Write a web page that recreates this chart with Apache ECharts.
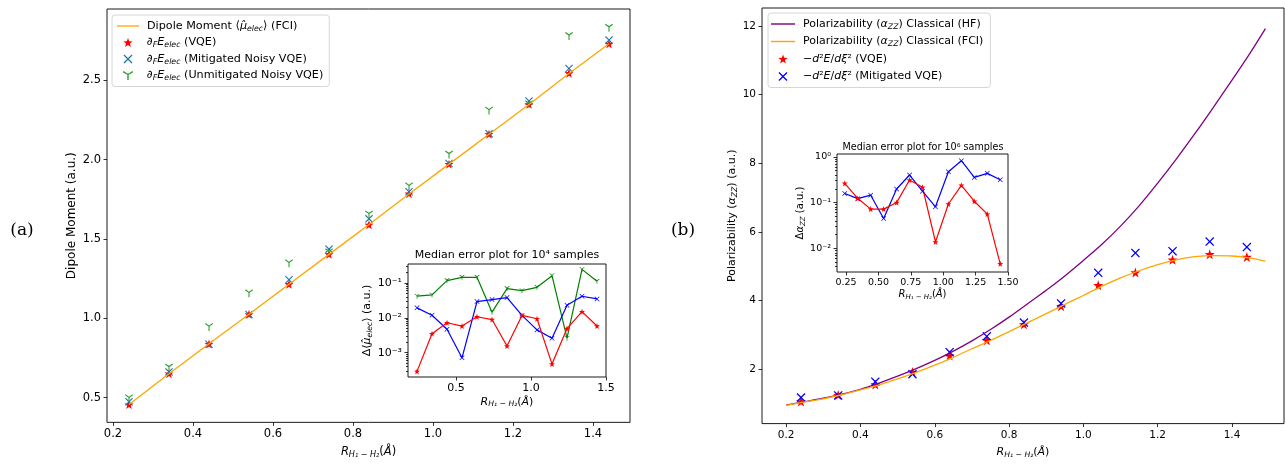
<!DOCTYPE html>
<html>
<head>
<meta charset="utf-8">
<script src="https://cdn.jsdelivr.net/npm/echarts@6/dist/echarts.min.js"></script>
<style>
html, body { margin: 0; padding: 0; background: #fff; }
#chart { width: 1286px; height: 464px; }
</style>
</head>
<body>
<div id="chart"></div>
<script>
// bond lengths used for every computed point
const rPoints = [0.24, 0.34, 0.44, 0.54, 0.64, 0.74, 0.84, 0.94, 1.04, 1.14, 1.24, 1.34, 1.44];

// (a) dipole moment
const dipoleFci = [0.456, 0.650, 0.840, 1.025, 1.215, 1.403, 1.591, 1.784, 1.972, 2.160, 2.348, 2.543, 2.731];
const dipoleVqe = [0.456, 0.651, 0.838, 1.025, 1.215, 1.404, 1.590, 1.786, 1.972, 2.161, 2.349, 2.545, 2.730];
const dipoleMitigated = [0.474, 0.662, 0.836, 1.024, 1.243, 1.436, 1.627, 1.798, 1.976, 2.164, 2.370, 2.575, 2.754];
const dipoleUnmitigated = [0.496, 0.690, 0.945, 1.158, 1.347, 1.417, 1.655, 1.832, 2.033, 2.310, 2.350, 2.780, 2.832];

// (a) inset: median errors, 10^4 samples
const errDipoleVqe = [0.00029, 0.0035, 0.0072, 0.0058, 0.0107, 0.0089, 0.00155, 0.0117, 0.0094, 0.00047, 0.0049, 0.015, 0.0058];
const errDipoleMitigated = [0.0193, 0.0118, 0.0047, 0.00071, 0.0293, 0.0334, 0.038, 0.0117, 0.0045, 0.0026, 0.0229, 0.0415, 0.0348];
const errDipoleUnmitigated = [0.0417, 0.0454, 0.117, 0.145, 0.145, 0.0145, 0.069, 0.060, 0.075, 0.162, 0.0026, 0.245, 0.112];

// (b) polarizability curves
const curveR = [0.20, 0.25, 0.30, 0.35, 0.40, 0.45, 0.50, 0.55, 0.60, 0.65, 0.70, 0.75, 0.80, 0.85, 0.90, 0.95, 1.00, 1.05, 1.10, 1.15, 1.20, 1.25, 1.30, 1.35, 1.40, 1.45, 1.49];
const polarHf = [0.96, 1.06, 1.16, 1.28, 1.42, 1.60, 1.80, 2.02, 2.26, 2.53, 2.83, 3.16, 3.52, 3.91, 4.30, 4.72, 5.17, 5.64, 6.17, 6.76, 7.42, 8.12, 8.86, 9.63, 10.42, 11.23, 11.92];
const polarFci = [0.95, 1.05, 1.14, 1.26, 1.40, 1.55, 1.72, 1.91, 2.12, 2.35, 2.60, 2.84, 3.10, 3.36, 3.62, 3.89, 4.15, 4.42, 4.66, 4.87, 5.05, 5.19, 5.28, 5.31, 5.30, 5.24, 5.15];
const polarVqe = [1.06, 1.25, 1.56, 1.92, 2.40, 2.85, 3.31, 3.84, 4.45, 4.82, 5.19, 5.35, 5.27];
const polarMitigated = [1.18, 1.24, 1.64, 1.86, 2.50, 2.96, 3.36, 3.92, 4.81, 5.39, 5.44, 5.72, 5.56];

// (b) inset: median errors, 10^6 samples
const errPolarVqe = [0.264, 0.124, 0.072, 0.072, 0.100, 0.311, 0.216, 0.0138, 0.093, 0.238, 0.107, 0.056, 0.0046];
const errPolarMitigated = [0.158, 0.122, 0.145, 0.045, 0.198, 0.40, 0.177, 0.081, 0.472, 0.82, 0.355, 0.435, 0.316];

// tick labels
const ticksDipoleX = [0.2, 0.4, 0.6, 0.8, 1.0, 1.2, 1.4];
const ticksDipoleY = [0.5, 1.0, 1.5, 2.0, 2.5];
const ticksPolarX = [0.2, 0.4, 0.6, 0.8, 1.0, 1.2, 1.4];
const ticksPolarY = [2, 4, 6, 8, 10, 12];
const ticksInsetAX = [0.5, 1.0, 1.5];
const ticksInsetAY = [0.001, 0.01, 0.1];
const minorInsetAY = [0.0003, 0.0004, 0.0005, 0.0006, 0.0007, 0.0008, 0.0009,
    0.002, 0.003, 0.004, 0.005, 0.006, 0.007, 0.008, 0.009,
    0.02, 0.03, 0.04, 0.05, 0.06, 0.07, 0.08, 0.09, 0.2, 0.3];
const ticksInsetBX = [0.25, 0.50, 0.75, 1.00, 1.25, 1.50];
const ticksInsetBY = [0.01, 0.1, 1];
const minorInsetBY = [0.004, 0.005, 0.006, 0.007, 0.008, 0.009,
    0.02, 0.03, 0.04, 0.05, 0.06, 0.07, 0.08, 0.09,
    0.2, 0.3, 0.4, 0.5, 0.6, 0.7, 0.8, 0.9];

const FONT = 'DejaVu Sans';
const STAR = 'path://M10,0 L12.35,6.76 L19.51,6.91 L13.8,11.24 L15.88,18.09 L10,14 L4.12,18.09 L6.2,11.24 L0.49,6.91 L7.65,6.76 Z';
const CROSS = 'path://M0,1 L1,0 L5,4 L9,0 L10,1 L6,5 L10,9 L9,10 L5,6 L1,10 L0,9 L4,5 Z';
const TRI = 'path://M4.4,10 L5.6,10 L5.6,5.6 L9.5,3.3 L8.9,2.3 L5,4.6 L1.1,2.3 L0.5,3.3 L4.4,5.6 Z';
const LINE_ICON = 'path://M0,0 L22,0 L22,1.3 L0,1.3 Z';

function pairs(xs, ys) {
    return xs.map(function (x, i) { return [x, ys[i]]; });
}

function mathRich(fs) {
    return {
        n: { fontSize: fs, fontFamily: FONT, color: '#000' },
        i: { fontSize: fs, fontFamily: FONT, fontStyle: 'italic', color: '#000' },
        sub: { fontSize: fs * 0.7, fontFamily: FONT, fontStyle: 'italic', color: '#000', lineHeight: fs * 0.7, padding: [fs * 0.5, 0, 0, 0] }
    };
}

const SUP = { '-': '⁻', '0': '⁰', '1': '¹', '2': '²', '3': '³', '4': '⁴' };
function powLabel(v) {
    let e = String(Math.round(Math.log10(v)));
    return '10' + e.split('').map(function (c) { return SUP[c]; }).join('');
}

const legendText = {
    'Dipole Moment (FCI)': '{n|Dipole Moment ⟨}{i|μ̂}{sub|elec}{n|⟩ (FCI)}',
    'dF VQE': '{i|∂}{sub|F}{i|E}{sub|elec}{n| (VQE)}',
    'dF Mitigated': '{i|∂}{sub|F}{i|E}{sub|elec}{n| (Mitigated Noisy VQE)}',
    'dF Unmitigated': '{i|∂}{sub|F}{i|E}{sub|elec}{n| (Unmitigated Noisy VQE)}',
    'Polar HF': '{n|Polarizability (}{i|α}{sub|ZZ}{n|) Classical (HF)}',
    'Polar FCI': '{n|Polarizability (}{i|α}{sub|ZZ}{n|) Classical (FCI)}',
    'd2E VQE': '{n|−}{i|d}{n|²}{i|E}{n|/}{i|dξ}{n|² (VQE)}',
    'd2E Mitigated': '{n|−}{i|d}{n|²}{i|E}{n|/}{i|dξ}{n|² (Mitigated VQE)}'
};

const R_LABEL = '{i|R}{sub|H₁ − H₂}{n|(}{i|Å}{n|)}';

function valueAxis(opt) {
    return Object.assign({
        type: 'value',
        axisLine: { show: false },
        splitLine: { show: false },
        nameLocation: 'middle'
    }, opt);
}

function labelCfg(fs, vals, fmt) {
    return {
        show: true, color: '#000', fontFamily: FONT, fontSize: fs, margin: 6,
        customValues: vals, showMinLabel: true, showMaxLabel: true,
        formatter: fmt
    };
}

function tickCfg(vals, len) {
    return { show: true, inside: false, length: len || 3.5, customValues: vals, lineStyle: { color: '#000', width: 0.8 } };
}

const gridStyle = { show: true, borderColor: '#000', borderWidth: 0.9, backgroundColor: '#fff' };

let chart = echarts.init(document.getElementById('chart'));

let option = {
    animation: false,
    backgroundColor: '#fff',
    grid: [
        Object.assign({ left: 107, top: 9, width: 523, height: 418 }, gridStyle),
        Object.assign({ left: 408, top: 264, width: 198, height: 113 }, gridStyle),
        Object.assign({ left: 762, top: 8, width: 522, height: 421 }, gridStyle),
        Object.assign({ left: 837, top: 154, width: 171, height: 118 }, gridStyle)
    ],
    xAxis: [
        valueAxis({
            gridIndex: 0, min: 0.185, max: 1.4925,
            axisLabel: labelCfg(11.5, ticksDipoleX, function (v) { return v.toFixed(1); }),
            axisTick: tickCfg(ticksDipoleX),
            name: R_LABEL, nameGap: 17,
            nameTextStyle: { rich: mathRich(11.5) }
        }),
        valueAxis({
            gridIndex: 1, min: 0.18, max: 1.5,
            axisLabel: labelCfg(11, ticksInsetAX, function (v) { return v.toFixed(1); }),
            axisTick: tickCfg(ticksInsetAX),
            name: R_LABEL, nameGap: 17,
            nameTextStyle: { rich: mathRich(11) }
        }),
        valueAxis({
            gridIndex: 2, min: 0.135, max: 1.54,
            axisLabel: labelCfg(10.5, ticksPolarX, function (v) { return v.toFixed(1); }),
            axisTick: tickCfg(ticksPolarX),
            name: R_LABEL, nameGap: 16,
            nameTextStyle: { rich: mathRich(11) }
        }),
        valueAxis({
            gridIndex: 3, min: 0.18, max: 1.5,
            axisLabel: labelCfg(9.5, ticksInsetBX, function (v) { return v.toFixed(2); }),
            axisTick: tickCfg(ticksInsetBX),
            name: R_LABEL, nameGap: 14,
            nameTextStyle: { rich: mathRich(10) }
        })
    ],
    yAxis: [
        valueAxis({
            gridIndex: 0, position: 'left', min: 0.344, max: 2.95,
            axisLabel: labelCfg(11.5, ticksDipoleY, function (v) { return v.toFixed(1); }),
            axisTick: tickCfg(ticksDipoleY),
            name: 'Dipole Moment (a.u.)', nameGap: 29,
            nameTextStyle: { fontFamily: FONT, fontSize: 12, color: '#000' }
        }),
        valueAxis({
            gridIndex: 1, position: 'left', type: 'log', logBase: 10, min: 0.0002, max: 0.35,
            axisLabel: labelCfg(11, ticksInsetAY, powLabel),
            axisTick: tickCfg(ticksInsetAY),
            name: '{n|Δ⟨}{i|μ̂}{sub|elec}{n|⟩ (a.u.)}', nameGap: 32,
            nameTextStyle: { rich: mathRich(11) }
        }),
        valueAxis({
            gridIndex: 2, position: 'left', min: 0.42, max: 12.52,
            axisLabel: labelCfg(10.5, ticksPolarY, function (v) { return String(v); }),
            axisTick: tickCfg(ticksPolarY),
            name: '{n|Polarizability (}{i|α}{sub|ZZ}{n|) (a.u.)}', nameGap: 22,
            nameTextStyle: { rich: mathRich(11) }
        }),
        valueAxis({
            gridIndex: 3, position: 'left', type: 'log', logBase: 10, min: 0.00305, max: 1.15,
            axisLabel: labelCfg(9.5, ticksInsetBY, powLabel),
            axisTick: tickCfg(ticksInsetBY),
            name: '{n|Δ}{i|α}{sub|ZZ}{n| (a.u.)}', nameGap: 27,
            nameTextStyle: { rich: mathRich(10) }
        }),
        // minor log ticks of the two insets
        valueAxis({
            gridIndex: 1, position: 'left', offset: 0, type: 'log', logBase: 10, min: 0.0002, max: 0.35,
            axisLabel: { show: false },
            axisTick: tickCfg(minorInsetAY, 2)
        }),
        valueAxis({
            gridIndex: 3, position: 'left', offset: 0, type: 'log', logBase: 10, min: 0.00305, max: 1.15,
            axisLabel: { show: false },
            axisTick: tickCfg(minorInsetBY, 2)
        })
    ],
    legend: [
        {
            left: 112, top: 15, orient: 'vertical',
            backgroundColor: 'rgba(255,255,255,0.8)', borderColor: '#d6d6d6', borderWidth: 1, borderRadius: 3,
            padding: [4, 6, 4, 5], itemWidth: 22, itemHeight: 9, itemGap: 2.5,
            textStyle: { fontFamily: FONT, fontSize: 11.2, lineHeight: 14, rich: mathRich(11.2), padding: [0, 0, 0, 3] },
            data: [
                { name: 'Dipole Moment (FCI)', icon: LINE_ICON },
                'dF VQE', 'dF Mitigated', 'dF Unmitigated'
            ],
            formatter: function (name) { return legendText[name]; }
        },
        {
            left: 768, top: 13, orient: 'vertical',
            backgroundColor: 'rgba(255,255,255,0.8)', borderColor: '#d6d6d6', borderWidth: 1, borderRadius: 3,
            padding: [4, 7, 4, 3], itemWidth: 24, itemHeight: 9, itemGap: 3.5,
            textStyle: { fontFamily: FONT, fontSize: 11, lineHeight: 14, rich: mathRich(11), padding: [0, 0, 0, 3] },
            data: [
                { name: 'Polar HF', icon: LINE_ICON },
                { name: 'Polar FCI', icon: LINE_ICON },
                'd2E VQE', 'd2E Mitigated'
            ],
            formatter: function (name) { return legendText[name]; }
        }
    ],
    graphic: [
        { type: 'text', x: 22, y: 231, style: { text: '(a)', font: '17px "DejaVu Serif"', textAlign: 'center', textVerticalAlign: 'middle', fill: '#000' } },
        { type: 'text', x: 683, y: 231, style: { text: '(b)', font: '17px "DejaVu Serif"', textAlign: 'center', textVerticalAlign: 'middle', fill: '#000' } },
        { type: 'text', x: 507, y: 255, z: 10, style: { text: 'Median error plot for 10⁴ samples', font: '11px "DejaVu Sans"', textAlign: 'center', textVerticalAlign: 'middle', fill: '#000' } },
        { type: 'text', x: 923, y: 147, z: 10, style: { text: 'Median error plot for 10⁶ samples', font: '9.6px "DejaVu Sans"', textAlign: 'center', textVerticalAlign: 'middle', fill: '#000' } }
    ],
    series: [
        // (a) main
        {
            name: 'Dipole Moment (FCI)', type: 'line', xAxisIndex: 0, yAxisIndex: 0,
            symbol: 'none', data: pairs(rPoints, dipoleFci),
            lineStyle: { color: '#ffa500', width: 1.3 }, itemStyle: { color: '#ffa500' }
        },
        {
            name: 'dF VQE', type: 'scatter', xAxisIndex: 0, yAxisIndex: 0,
            symbol: STAR, symbolSize: 9, data: pairs(rPoints, dipoleVqe),
            itemStyle: { color: '#ff0000', opacity: 1 }
        },
        {
            name: 'dF Mitigated', type: 'scatter', xAxisIndex: 0, yAxisIndex: 0,
            symbol: CROSS, symbolSize: 8, data: pairs(rPoints, dipoleMitigated),
            itemStyle: { color: '#1f77b4', opacity: 1 }
        },
        {
            name: 'dF Unmitigated', type: 'scatter', xAxisIndex: 0, yAxisIndex: 0,
            symbol: TRI, symbolSize: 8, data: pairs(rPoints, dipoleUnmitigated),
            itemStyle: { color: '#2ca02c', opacity: 1 }
        },
        // (a) inset
        {
            name: 'inset a unmitigated', type: 'line', xAxisIndex: 1, yAxisIndex: 1,
            symbol: TRI, symbolSize: 5, data: pairs(rPoints, errDipoleUnmitigated),
            lineStyle: { color: '#008000', width: 1.2 }, itemStyle: { color: '#008000' }, z: 5
        },
        {
            name: 'inset a mitigated', type: 'line', xAxisIndex: 1, yAxisIndex: 1,
            symbol: CROSS, symbolSize: 5, data: pairs(rPoints, errDipoleMitigated),
            lineStyle: { color: '#0000ff', width: 1.2 }, itemStyle: { color: '#0000ff' }, z: 5
        },
        {
            name: 'inset a vqe', type: 'line', xAxisIndex: 1, yAxisIndex: 1,
            symbol: STAR, symbolSize: 6, data: pairs(rPoints, errDipoleVqe),
            lineStyle: { color: '#ff0000', width: 1.2 }, itemStyle: { color: '#ff0000' }, z: 5
        },
        // (b) main
        {
            name: 'Polar HF', type: 'line', xAxisIndex: 2, yAxisIndex: 2,
            symbol: 'none', smooth: 0.3, data: pairs(curveR, polarHf),
            lineStyle: { color: '#800080', width: 1.3 }, itemStyle: { color: '#800080' }
        },
        {
            name: 'Polar FCI', type: 'line', xAxisIndex: 2, yAxisIndex: 2,
            symbol: 'none', smooth: 0.3, data: pairs(curveR, polarFci),
            lineStyle: { color: '#ffa500', width: 1.3 }, itemStyle: { color: '#ffa500' }
        },
        {
            name: 'd2E VQE', type: 'scatter', xAxisIndex: 2, yAxisIndex: 2,
            symbol: STAR, symbolSize: 10, data: pairs(rPoints, polarVqe),
            itemStyle: { color: '#ff0000', opacity: 1 }
        },
        {
            name: 'd2E Mitigated', type: 'scatter', xAxisIndex: 2, yAxisIndex: 2,
            symbol: CROSS, symbolSize: 9, data: pairs(rPoints, polarMitigated),
            itemStyle: { color: '#0000ff', opacity: 1 }
        },
        // (b) inset
        {
            name: 'inset b mitigated', type: 'line', xAxisIndex: 3, yAxisIndex: 3,
            symbol: CROSS, symbolSize: 5, data: pairs(rPoints, errPolarMitigated),
            lineStyle: { color: '#0000ff', width: 1.2 }, itemStyle: { color: '#0000ff' }, z: 5
        },
        {
            name: 'inset b vqe', type: 'line', xAxisIndex: 3, yAxisIndex: 3,
            symbol: STAR, symbolSize: 6, data: pairs(rPoints, errPolarVqe),
            lineStyle: { color: '#ff0000', width: 1.2 }, itemStyle: { color: '#ff0000' }, z: 5
        }
    ]
};

chart.setOption(option);
</script>
</body>
</html>
